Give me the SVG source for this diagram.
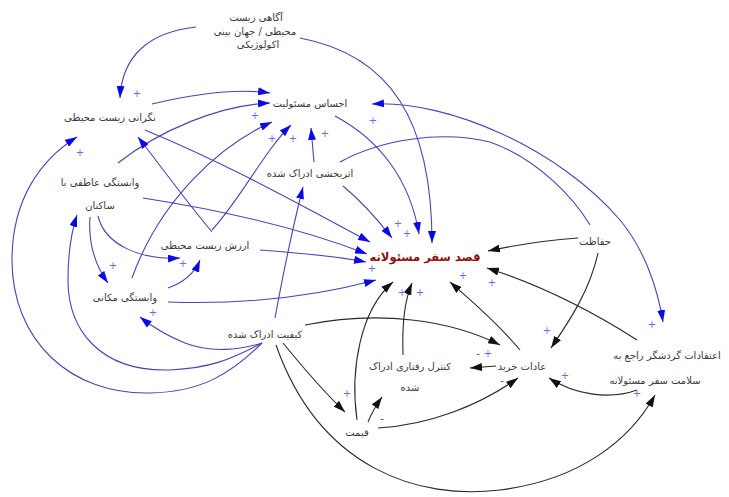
<svg xmlns="http://www.w3.org/2000/svg" width="729" height="497" viewBox="0 0 729 497">
<style>
.t{font-family:"DejaVu Sans",sans-serif;font-size:10px;fill:#3a3a3a;text-anchor:middle;direction:rtl}
.main{font-family:"DejaVu Sans",sans-serif;font-size:11.5px;font-weight:bold;fill:#8b1010;text-anchor:middle;direction:rtl}
.b{fill:none;stroke:#4646b4;stroke-width:1.1}
.k{fill:none;stroke:#2a2a2a;stroke-width:1.1}
.bm{marker-end:url(#ab)}
.km{marker-end:url(#ak)}
.p{font-family:"DejaVu Sans",sans-serif;font-size:10px;fill:#6a6ae0;text-anchor:middle}
.m{font-family:"DejaVu Sans",sans-serif;font-size:10px;fill:#444;text-anchor:middle}
</style>
<defs>
<marker id="ab" viewBox="0 0 12 8" refX="12" refY="4" markerWidth="12" markerHeight="8" markerUnits="userSpaceOnUse" orient="auto-start-reverse"><path d="M0,0 L12,4 L0,8 z" fill="#0a0ae6"/></marker>
<marker id="ak" viewBox="0 0 12 8" refX="12" refY="4" markerWidth="12" markerHeight="8" markerUnits="userSpaceOnUse" orient="auto"><path d="M0,0 L12,4 L0,8 z" fill="#111"/></marker>
</defs>
<rect width="729" height="497" fill="#fff"/>
<g id="connectors">
<path class="b bm" d="M196,27 C150,32 122,55 120,98"/>
<path class="b bm" d="M300,38 C390,55 432,120 432,243"/>
<path class="b bm" d="M152,104 C190,95 235,88 270,93"/>
<path class="b bm" d="M118,163 C160,130 220,105 270,103"/>
<path class="b bm" d="M145,130 C230,165 310,210 370,242"/>
<path class="b bm" d="M212,232 C185,200 160,165 138,137"/>
<path class="b bm" d="M143,198 C220,210 300,228 367,254"/>
<path class="b bm" d="M260,250 C300,253 335,256 366,262"/>
<path class="b bm" d="M168,302 C250,305 320,295 376,280"/>
<path class="b bm" d="M98,216 C105,245 140,260 180,258"/>
<path class="b bm" d="M90,217 C88,245 95,265 108,283"/>
<path class="b bm" d="M168,288 C185,282 195,272 200,260"/>
<path class="b bm" d="M132,278 C160,200 220,145 272,122"/>
<path class="b bm" d="M314,162 L311,128"/>
<path class="b bm" d="M343,186 C360,200 378,220 392,238"/>
<path class="b bm" d="M335,116 C380,140 410,180 419,234"/>
<path class="b bm" d="M212,230 C240,200 265,150 291,125"/>
<path class="b bm" d="M275,318 C282,280 292,230 303,187"/>
<path class="b bm" d="M262,343 C230,375 200,392 150,393 C70,395 12,340 12,260 C12,200 40,160 77,137"/>
<path class="b bm" d="M262,343 C230,360 210,368 170,370 C100,372 68,330 68,280 C68,250 72,230 77,215"/>
<path class="b bm" d="M262,343 C240,350 210,353 185,343 C165,335 150,325 140,317"/>
<path class="b bm" d="M372,104 C450,100 560,150 620,220 C645,250 658,290 663,322" marker-start="url(#ab)"/>
<path class="b" d="M340,162 C380,140 440,130 490,142 C540,160 575,200 590,225"/>
<path class="k km" d="M578,238 C550,240 520,244 488,251"/>
<path class="k km" d="M598,253 C590,290 570,320 551,348"/>
<path class="k km" d="M637,340 C590,310 540,285 487,268"/>
<path class="k km" d="M637,390 C610,400 575,395 549,378"/>
<path class="k km" d="M276,345 C320,470 420,500 500,490 C580,480 630,440 655,395"/>
<path class="k km" d="M283,343 C305,370 325,393 345,412"/>
<path class="k km" d="M357,420 C350,370 360,310 393,282"/>
<path class="k km" d="M403,355 C402,320 405,300 412,283"/>
<path class="k km" d="M305,325 C380,310 450,320 500,345"/>
<path class="k km" d="M520,350 C495,320 470,300 450,282"/>
<path class="k km" d="M496,366 L470,368"/>
<path class="k km" d="M378,428 C430,425 480,405 518,378"/>
<path class="k km" d="M368,422 C372,412 377,404 382,397"/>
</g>
<g id="signs">
<text class="p" x="137" y="97">+</text>
<text class="p" x="80" y="156">+</text>
<text class="p" x="255" y="119">+</text>
<text class="p" x="272" y="142">+</text>
<text class="p" x="293" y="142">+</text>
<text class="p" x="325" y="137">+</text>
<text class="p" x="373" y="124">+</text>
<text class="p" x="113" y="269">+</text>
<text class="p" x="183" y="267">+</text>
<text class="p" x="153" y="316">+</text>
<text class="p" x="398" y="227">+</text>
<text class="p" x="407" y="237">+</text>
<text class="p" x="372" y="272">+</text>
<text class="p" x="463" y="279">+</text>
<text class="p" x="492" y="286">+</text>
<text class="p" x="402" y="296">+</text>
<text class="p" x="420" y="296">+</text>
<text class="p" x="547" y="334">+</text>
<text class="p" x="565" y="379">+</text>
<text class="p" x="637" y="397">+</text>
<text class="p" x="652" y="328">+</text>
<text class="p" x="347" y="397">+</text>
<text class="p" x="488" y="357">+</text>
<text class="m" x="478" y="357">-</text>
<text class="m" x="502" y="384">-</text>
<text class="m" x="382" y="422">-</text>
</g>
<g id="n-agahi"><text class="t" x="256" y="21">آگاهی زیست</text><text class="t" x="255" y="35">محیطی / جهان بینی</text><text class="t" x="258" y="48">اکولوژیکی</text></g>
<g id="n-negarani"><text class="t" x="110" y="121">نگرانی زیست محیطی</text></g>
<g id="n-ehsas"><text class="t" x="310" y="107">احساس مسئولیت</text></g>
<g id="n-asarbakhshi"><text class="t" x="310" y="177">اثربخشی ادراک شده</text></g>
<g id="n-vabastegi-atefi"><text class="t" x="100" y="186">وابستگی عاطفی با</text><text class="t" x="100" y="209">ساکنان</text></g>
<g id="n-arzesh"><text class="t" x="205" y="249">ارزش زیست محیطی</text></g>
<g id="n-vabastegi-makani"><text class="t" x="125" y="301">وابستگی مکانی</text></g>
<g id="n-ghasd"><text class="main" x="425" y="261">قصد سفر مسئولانه</text></g>
<g id="n-hefazat"><text class="t" x="595" y="245">حفاظت</text></g>
<g id="n-keyfiat"><text class="t" x="265" y="338">کیفیت ادراک شده</text></g>
<g id="n-control"><text class="t" x="410" y="370">کنترل رفتاری ادراک</text><text class="t" x="410" y="391">شده</text></g>
<g id="n-adat"><text class="t" x="522" y="370">عادات خرید</text></g>
<g id="n-gheymat"><text class="t" x="357" y="436">قیمت</text></g>
<g id="n-eteghadat"><text class="t" x="667" y="359">اعتقادات گردشگر راجع به</text><text class="t" x="655" y="384">سلامت سفر مسئولانه</text></g>
</svg>
